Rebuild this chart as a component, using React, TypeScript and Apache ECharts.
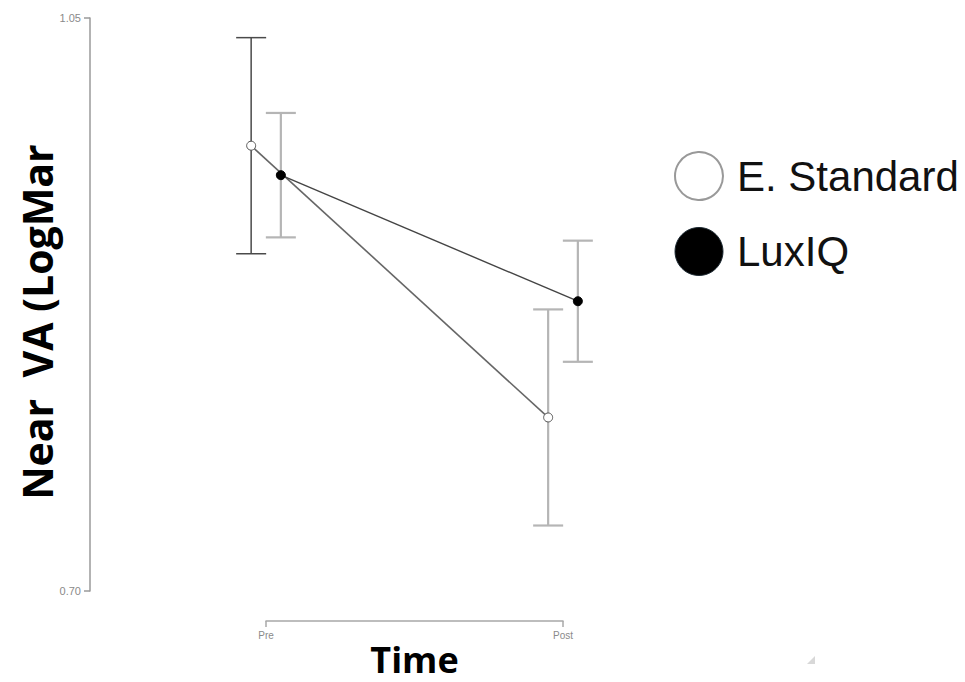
import React, { useEffect, useRef } from "react";
import * as echarts from "echarts";

const groups = ["Pre", "Post"];
const seriesNames = ["E. Standard", "LuxIQ"];
const esMean = [0.972, 0.806];
const esLow = [0.906, 0.74];
const esHigh = [1.038, 0.872];
const luxMean = [0.954, 0.877];
const luxLow = [0.916, 0.84];
const luxHigh = [0.992, 0.914];
const yMin = 0.7;
const yMax = 1.05;

const DODGE = 0.05;
const esBarColors = ["#4a4a4a", "#b5b5b5"];
const luxBarColors = ["#b5b5b5", "#b5b5b5"];

function errorSeries(name: string, low: number[], high: number[], offset: number, colors: string[]) {
  return {
    type: "custom",
    name: name + " error",
    xAxisIndex: 0,
    yAxisIndex: 0,
    z: 1,
    silent: true,
    clip: false,
    data: groups.map((_, i) => [i + offset, low[i], high[i]]),
    renderItem: (params: any, api: any) => {
      const x = api.value(0);
      const lo = api.coord([x, api.value(1)]);
      const hi = api.coord([x, api.value(2)]);
      const w = 15;
      const col = colors[params.dataIndex];
      const lw = col === "#4a4a4a" ? 1.5 : 2.2;
      const style = { stroke: col, lineWidth: lw };
      return {
        type: "group",
        children: [
          { type: "line", shape: { x1: hi[0], y1: hi[1], x2: lo[0], y2: lo[1] }, style },
          { type: "line", shape: { x1: hi[0] - w, y1: hi[1], x2: hi[0] + w, y2: hi[1] }, style },
          { type: "line", shape: { x1: lo[0] - w, y1: lo[1], x2: lo[0] + w, y2: lo[1] }, style },
        ],
      };
    },
  };
}

export default function App() {
  const ref = useRef<HTMLDivElement>(null);
  useEffect(() => {
    if (!ref.current) return;
    const chart = echarts.init(ref.current, null, { renderer: "svg" });
    chart.setOption({
      animation: false,
      backgroundColor: "#ffffff",
      grid: [
        { left: 117.5, right: 253.5, top: 18, bottom: 91, containLabel: false, outerBoundsMode: "none" },
        { left: 266, right: 402, top: 600, bottom: 61, containLabel: false, outerBoundsMode: "none" },
      ],
      xAxis: [
        {
          type: "value",
          gridIndex: 0,
          min: -0.5,
          max: 1.5,
          show: false,
        },
        {
          type: "category",
          gridIndex: 1,
          data: groups,
          boundaryGap: false,
          axisLine: { show: true, onZero: false, lineStyle: { color: "#a8a8a8", width: 1.5 } },
          axisTick: { show: true, length: 6, lineStyle: { color: "#a8a8a8", width: 1.5 } },
          axisLabel: { color: "#8a8a8a", fontSize: 10, margin: 9, fontFamily: "Liberation Sans" },
          splitLine: { show: false },
          name: "Time",
          nameLocation: "middle",
          nameGap: 20,
          nameTextStyle: { fontSize: 36, lineHeight: 36, fontWeight: "bold", fontFamily: "Open Sans", color: "#000" },
        },
      ],
      yAxis: [
        {
          type: "value",
          gridIndex: 0,
          min: yMin,
          max: yMax,
          interval: 0.35,
          offset: 27.5,
          axisLine: { show: true, onZero: false, lineStyle: { color: "#9a9a9a", width: 1.5 } },
          axisTick: { show: true, length: 6, lineStyle: { color: "#9a9a9a", width: 1.5 } },
          axisLabel: {
            color: "#8a8a8a",
            fontSize: 11,
            margin: 9,
            fontFamily: "Liberation Sans",
            formatter: (v: number) => v.toFixed(2),
          },
          splitLine: { show: false },
        },
        {
          type: "value",
          gridIndex: 1,
          show: false,
        },
      ],
      legend: {
        orient: "vertical",
        left: 669,
        top: 146,
        icon: "circle",
        itemWidth: 48,
        itemHeight: 48,
        itemGap: 26,
        textStyle: { fontSize: 42, fontFamily: "Liberation Sans", color: "#111", padding: [0, 0, 0, 9] },
        data: [
          { name: seriesNames[0], itemStyle: { color: "#ffffff", borderColor: "#999", borderWidth: 2 } },
          { name: seriesNames[1], itemStyle: { color: "#000000", borderColor: "#1d2a33", borderWidth: 1 } },
        ],
      },
      series: [
        errorSeries(seriesNames[0], esLow, esHigh, -DODGE, esBarColors),
        errorSeries(seriesNames[1], luxLow, luxHigh, DODGE, luxBarColors),
        {
          type: "line",
          name: seriesNames[0],
          xAxisIndex: 0,
          yAxisIndex: 0,
          z: 3,
          data: groups.map((_, i) => [i - DODGE, esMean[i]]),
          symbol: "circle",
          symbolSize: 9,
          lineStyle: { color: "#666", width: 1.6 },
          itemStyle: { color: "#ffffff", borderColor: "#555", borderWidth: 1 },
        },
        {
          type: "line",
          name: seriesNames[1],
          xAxisIndex: 0,
          yAxisIndex: 0,
          z: 4,
          data: groups.map((_, i) => [i + DODGE, luxMean[i]]),
          symbol: "circle",
          symbolSize: 9,
          lineStyle: { color: "#444", width: 1.4 },
          itemStyle: { color: "#000000", borderColor: "#000", borderWidth: 1 },
        },
      ],
      graphic: [
        {
          type: "text",
          x: 37,
          y: 322,
          rotation: Math.PI / 2,
          style: {
            text: "Near  VA (LogMar",
            fontSize: 41,
            fontWeight: "bold",
            fontFamily: "Open Sans",
            fill: "#000",
            align: "center",
            verticalAlign: "middle",
          },
        },
        {
          type: "polygon",
          shape: { points: [[815, 656], [815, 664], [807, 664]] },
          style: { fill: "#d8d8d8" },
          silent: true,
        },
      ],
    });
    return () => chart.dispose();
  }, []);
  return <div ref={ref} style={{ position: "fixed", left: 0, top: 0, width: 965, height: 682 }} />;
}
